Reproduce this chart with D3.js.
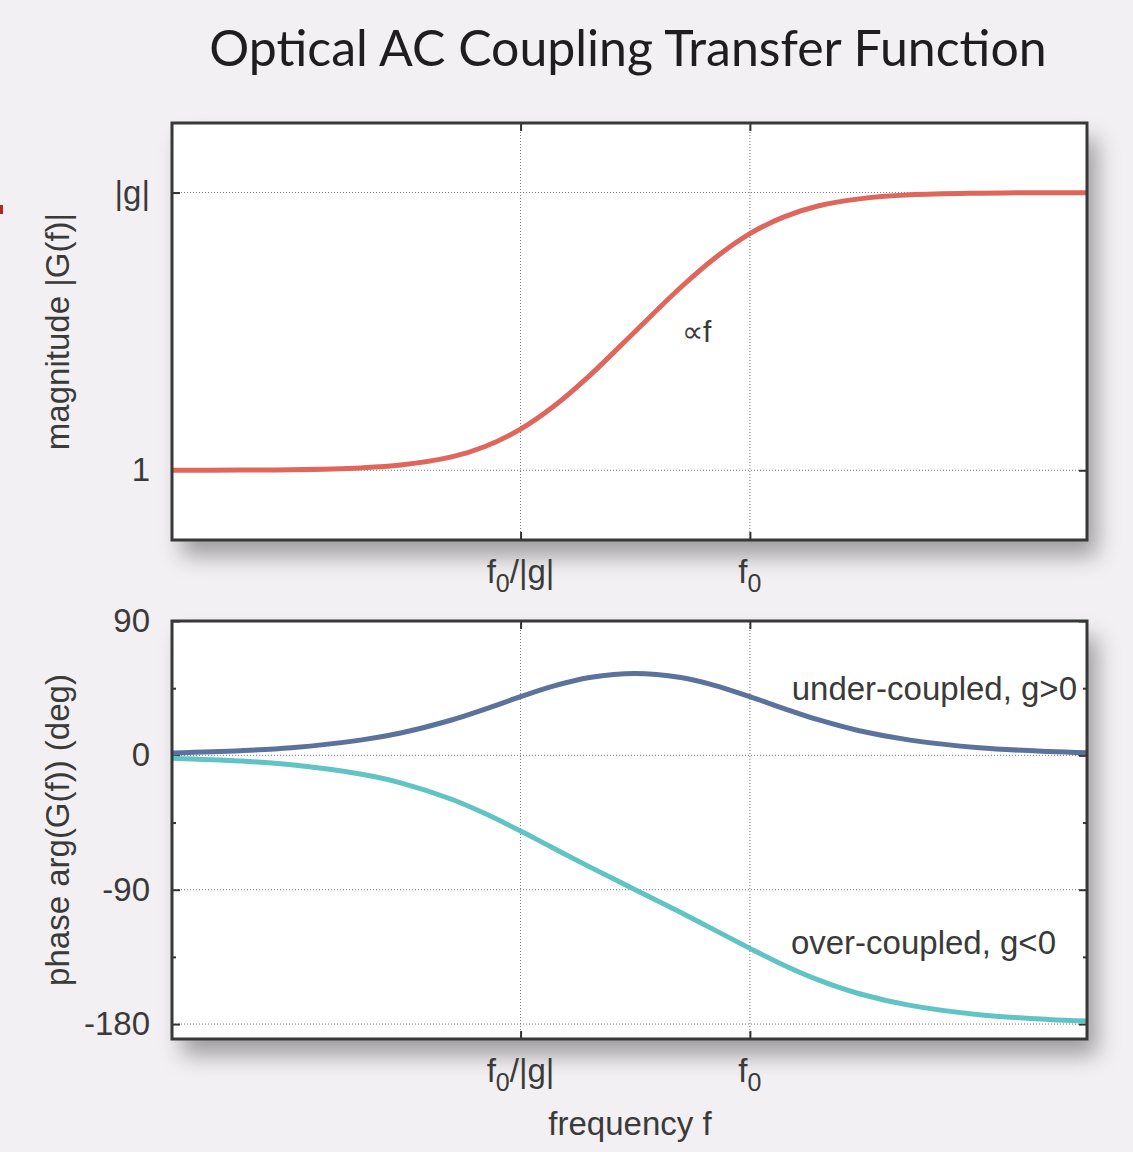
<!DOCTYPE html>
<html>
  <head>
    <meta charset="utf-8">
    <script src="https://d3js.org/d3.v7.min.js"></script>
    <style>
      body { margin: 0; background: #f3f0f3; }
      text { font-family: "Liberation Sans", Arial, sans-serif; fill: #3a3a3a; }
    </style>
  </head>
  <body>
    <script type="text/javascript">
      // frequency in units of f0 (f0 = 1, |g| = 10)
      var freq = [0.003, 0.006, 0.01, 0.02, 0.03, 0.05, 0.07, 0.1, 0.14, 0.2, 0.316, 0.5, 0.7, 1, 1.4, 2, 3, 5, 10, 20, 29.5];
      // |G(f)|, goes from 1 to |g|
      var magnitude = [1.0, 1.002, 1.005, 1.02, 1.044, 1.117, 1.218, 1.407, 1.704, 2.193, 3.162, 4.56, 5.79, 7.11, 8.16, 8.96, 9.49, 9.81, 9.95, 9.99, 9.99];
      // arg(G(f)) in degrees
      var phaseUnder = [1.6, 3.1, 5.1, 10.2, 15.0, 23.7, 31.0, 39.3, 46.5, 52.1, 54.9, 52.1, 46.9, 39.3, 31.5, 23.7, 16.5, 10.2, 5.1, 2.6, 1.8];
      var phaseOver = [-1.9, -3.8, -6.3, -12.5, -18.4, -29.4, -39.0, -50.7, -62.4, -74.7, -90.0, -105.3, -116.9, -129.3, -140.4, -150.6, -159.7, -167.5, -173.7, -176.9, -177.9];

      var xTicks = [0.1, 1];
      var xTickLabels = [["f", "0", "/|g|"], ["f", "0", ""]];
      var magTicks = [1, 10];
      var magTickLabels = ["1", "|g|"];
      var phaseTicks = [-180, -90, 0, 90];
      var phaseMinor = [-135, -45, 45];

      var W = 1133, H = 1152;
      var left = 172, right = 1087;
      var top1 = 123, bot1 = 540, top2 = 621, bot2 = 1039;
      var fs = "33px";

      var svg = d3.select("body").append("svg")
        .attr("width", W).attr("height", H);

      var defs = svg.append("defs");
      var f = defs.append("filter").attr("id", "shadow")
        .attr("x", "-10%").attr("y", "-10%").attr("width", "130%").attr("height", "140%");
      f.append("feDropShadow")
        .attr("dx", 10).attr("dy", 16).attr("stdDeviation", 11)
        .attr("flood-color", "#000").attr("flood-opacity", 0.35);

      // little red mark at the left edge
      svg.append("rect").attr("x", 0).attr("y", 205).attr("width", 3).attr("height", 9).attr("fill", "#b02a2a");

      svg.append("text")
        .attr("x", 628).attr("y", 66)
        .attr("text-anchor", "middle")
        .style("font-family", "Lato, 'Open Sans', sans-serif")
        .style("font-size", "50px")
        .style("fill", "#1e1e1e")
        .text("Optical AC Coupling Transfer Function");

      var x = d3.scaleLog().domain([Math.pow(10, -2.52), Math.pow(10, 1.47)]).range([left, right]);
      var yMag = d3.scaleLog().domain([0.561, 17.8]).range([bot1, top1]);
      var yPh = d3.scaleLinear().domain([-190, 90]).range([bot2, top2]);

      function panel(y0, y1, yScale, yTicks, yMinor, yLabels, ylabel, id) {
        var g = svg.append("g");
        g.append("rect")
          .attr("x", left).attr("y", y0).attr("width", right - left).attr("height", y1 - y0)
          .attr("fill", "#fff").attr("filter", "url(#shadow)");

        defs.append("clipPath").attr("id", id)
          .append("rect").attr("x", left).attr("y", y0).attr("width", right - left).attr("height", y1 - y0);

        // grid
        g.selectAll(".hg").data(yTicks).enter().append("line")
          .attr("x1", left).attr("x2", right)
          .attr("y1", function (d) { return yScale(d); }).attr("y2", function (d) { return yScale(d); })
          .attr("stroke", "#777").attr("stroke-width", 1).attr("stroke-dasharray", "1,2");
        g.selectAll(".vg").data(xTicks).enter().append("line")
          .attr("x1", function (d) { return x(d); }).attr("x2", function (d) { return x(d); })
          .attr("y1", y0).attr("y2", y1)
          .attr("stroke", "#777").attr("stroke-width", 1).attr("stroke-dasharray", "1,2");

        // inward ticks on all four sides
        var ax = g.append("g").attr("transform", "translate(" + left + ",0)")
          .call(d3.axisLeft(yScale).tickValues(yTicks).tickSizeInner(-8).tickSizeOuter(0).tickPadding(22)
            .tickFormat(function (d, i) { return yLabels[i]; }));
        ax.select(".domain").remove();
        ax.selectAll("line").attr("stroke", "#333").attr("stroke-width", 2);
        ax.selectAll("text").style("font-size", fs).style("fill", "#3a3a3a").attr("font-family", null);

        var axr = g.append("g").attr("transform", "translate(" + right + ",0)")
          .call(d3.axisRight(yScale).tickValues(yTicks).tickSizeInner(-8).tickSizeOuter(0).tickFormat(""));
        axr.select(".domain").remove();
        axr.selectAll("line").attr("stroke", "#333").attr("stroke-width", 2);

        if (yMinor.length) {
          [[left, d3.axisLeft], [right, d3.axisRight]].forEach(function (s) {
            var m = g.append("g").attr("transform", "translate(" + s[0] + ",0)")
              .call(s[1](yScale).tickValues(yMinor).tickSizeInner(-4).tickSizeOuter(0).tickFormat(""));
            m.select(".domain").remove();
            m.selectAll("line").attr("stroke", "#333").attr("stroke-width", 2);
          });
        }

        [[y1, d3.axisBottom], [y0, d3.axisTop]].forEach(function (s) {
          var a = g.append("g").attr("transform", "translate(0," + s[0] + ")")
            .call(s[1](x).tickValues(xTicks).tickSizeInner(-8).tickSizeOuter(0).tickFormat(""));
          a.select(".domain").remove();
          a.selectAll("line").attr("stroke", "#333").attr("stroke-width", 2);
        });

        // x tick labels with subscript
        g.selectAll(".xl").data(xTicks).enter().append("text")
          .attr("x", function (d) { return x(d); })
          .attr("y", y1 + 43)
          .attr("text-anchor", "middle")
          .style("font-size", fs)
          .each(function (d, i) {
            var t = d3.select(this), p = xTickLabels[i];
            t.append("tspan").text(p[0]);
            t.append("tspan").attr("dy", 9).style("font-size", "25px").text(p[1]);
            if (p[2]) t.append("tspan").attr("dy", -9).text(p[2]);
          });

        svg.append("text")
          .attr("transform", "translate(69," + ((y0 + y1) / 2) + ") rotate(-90)")
          .attr("text-anchor", "middle")
          .style("font-size", fs)
          .text(ylabel);

        return g;
      }

      var p1 = panel(top1, bot1, yMag, magTicks, [], magTickLabels, "magnitude |G(f)|", "c1");
      var p2 = panel(top2, bot2, yPh, phaseTicks, phaseMinor, phaseTicks.map(String), "phase arg(G(f)) (deg)", "c2");

      function curve(g, ys, yScale, color, clip) {
        g.append("path")
          .datum(freq.map(function (d, i) { return [d, ys[i]]; }))
          .attr("clip-path", "url(#" + clip + ")")
          .attr("fill", "none").attr("stroke", color).attr("stroke-width", 5)
          .attr("d", d3.line()
            .x(function (d) { return x(d[0]); })
            .y(function (d) { return yScale(d[1]); })
            .curve(d3.curveCatmullRom.alpha(0.5)));
      }
      curve(p1, magnitude, yMag, "#e0665b", "c1");
      curve(p2, phaseUnder, yPh, "#5b729d", "c2");
      curve(p2, phaseOver, yPh, "#60c3c4", "c2");

      // frames on top
      [[top1, bot1], [top2, bot2]].forEach(function (b) {
        svg.append("rect")
          .attr("x", left).attr("y", b[0]).attr("width", right - left).attr("height", b[1] - b[0])
          .attr("fill", "none").attr("stroke", "#383838").attr("stroke-width", 3);
      });

      svg.append("text").attr("x", 682).attr("y", 342).style("font-size", "30px").text("\u221Df");
      svg.append("text").attr("x", 1077).attr("y", 700).attr("text-anchor", "end").style("font-size", fs).text("under-coupled, g>0");
      svg.append("text").attr("x", 1056).attr("y", 954).attr("text-anchor", "end").style("font-size", fs).text("over-coupled, g<0");
      svg.append("text").attr("x", 630).attr("y", 1135).attr("text-anchor", "middle").style("font-size", fs).text("frequency f");
    </script>
  </body>
</html>
